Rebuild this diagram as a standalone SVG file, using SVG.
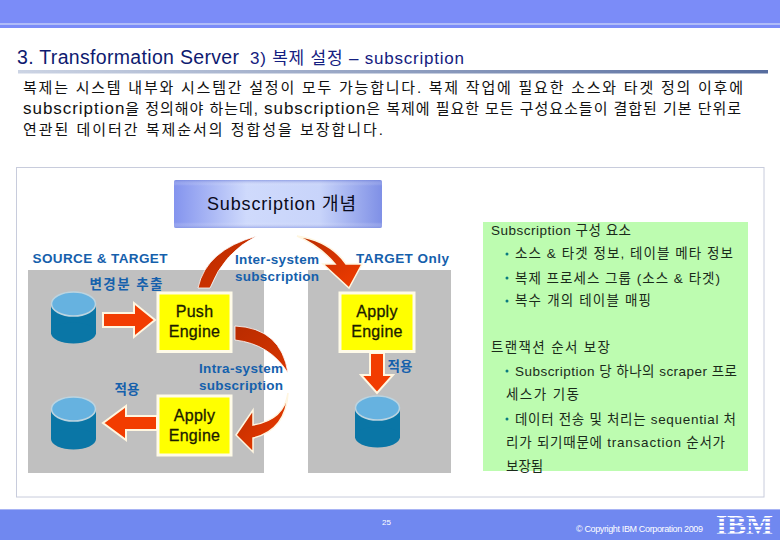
<svg xmlns="http://www.w3.org/2000/svg" width="780" height="540" viewBox="0 0 780 540">
<style>
text{font-family:"Liberation Sans","Noto Sans CJK KR",sans-serif}
.body{font-size:15px;fill:#111}
.body .l{font-size:17px}
.lbl{font-size:13.500px;font-weight:bold;fill:#1560ac;text-anchor:middle}
.eng{font-size:16px;fill:#1c1c00;stroke:#1c1c00;stroke-width:.3;text-anchor:middle;letter-spacing:.3px}
.grn{font-size:13.500px;fill:#1a2a1a}
.dot{fill:#0a7a80}
.gray{fill:#c0c0c0}
.yel{fill:#ffff00;stroke:#fffbe8;stroke-width:3}
.arr{fill:#f23c00;stroke:#fff6e0;stroke-width:2}
.cr{fill:url(#crg);stroke:#fff;stroke-width:.8}
.cyl{fill:#0a76a6}
.cyt{fill:#66b2e0;stroke:#bcd4e0;stroke-width:1.500}
</style>
<defs>
<linearGradient id="rule"><stop offset="0" stop-color="#ccd4e4"/><stop offset="1" stop-color="#566c9e"/></linearGradient>
<linearGradient id="box"><stop offset="0" stop-color="#8494ee"/><stop offset=".35" stop-color="#cfdafc"/><stop offset=".7" stop-color="#c8d4fa"/><stop offset="1" stop-color="#7f90e6"/></linearGradient>
<linearGradient id="boxe" x1="0" y1="0" x2="0" y2="1"><stop offset="0" stop-color="#6f80d8" stop-opacity=".6"/><stop offset=".12" stop-color="#fff" stop-opacity="0"/><stop offset=".88" stop-color="#fff" stop-opacity="0"/><stop offset="1" stop-color="#7f90e0" stop-opacity=".6"/></linearGradient>
<linearGradient id="crg" x1="0" y1="0" x2="1" y2="1"><stop offset="0" stop-color="#b82c00"/><stop offset="1" stop-color="#d83400"/></linearGradient>
<linearGradient id="crt" x1="0" y1="0" x2="1" y2="1"><stop offset="0" stop-color="#b82c00"/><stop offset="1" stop-color="#f23c00"/></linearGradient>
<pattern id="stripes" patternUnits="userSpaceOnUse" x="0" y="515" width="10" height="4"><rect width="10" height="2.600" fill="#fff"/></pattern>
</defs>

<g id="header">
<rect width="780" height="28" fill="#7b8cf8"/>
<rect y="23" width="780" height="2" fill="#b0bcf8"/>
<text x="17" y="64" font-size="19.500" fill="#0e1a70" textLength="222">3. Transformation Server</text>
<text x="250" y="64" font-size="17" fill="#142080" textLength="214">3) 복제 설정 – subscription</text>
<rect x="18" y="70" width="750" height="3.500" fill="url(#rule)"/>
</g>

<g id="intro">
<text class="body" x="23" y="93" textLength="720">복제는 시스템 내부와 시스템간 설정이 모두 가능합니다. 복제 작업에 필요한 소스와 타겟 정의 이후에</text>
<text class="body" x="23" y="114" textLength="718"><tspan class="l">subscription</tspan>을 정의해야 하는데, <tspan class="l">subscription</tspan>은 복제에 필요한 모든 구성요소들이 결합된 기본 단위로</text>
<text class="body" x="23" y="135" textLength="360">연관된 데이터간 복제순서의 정합성을 보장합니다.</text>
</g>

<rect id="frame" x="16.500" y="167.500" width="747.500" height="329.500" fill="#fff" stroke="#c8ccdc"/>
<rect id="zone-source" class="gray" x="28" y="270" width="236" height="203"/>
<rect id="zone-target" class="gray" x="308" y="270" width="143" height="203"/>

<g id="concept">
<rect x="174" y="180" width="208" height="48" rx="2" fill="url(#box)"/>
<rect x="174" y="180" width="208" height="48" rx="2" fill="url(#boxe)"/>
<text x="207" y="210" font-size="18" fill="#0a0a1a" textLength="149">Subscription 개념</text>
</g>

<g id="connectors">
<path class="arr" d="M103,313H134V303L155,320L134,337V327H103Z"/>
<path class="arr" d="M157,416H126V406L103,423L126,440V430H157Z"/>
<path class="arr" d="M370,353H384V375H393L377,393L361,375H370Z"/>
<path class="cr" d="M198,288Q206,250 257,236Q224,252 210,288Z"/>
<path d="M297,236Q330,241 346,264L362,264L349,288L323,264L335,264Q320,246 297,236Z" fill="url(#crt)" stroke="#fff6e0" stroke-width="1.500"/>
<path class="cr" d="M235,326Q281,328 288,373Q270,344 235,340Z"/>
<path d="M288,393Q284,420 253,425V410L236,435L253,452V438Q286,430 288,393Z" fill="url(#crt)" stroke="#fff6e0" stroke-width="1.500"/>
</g>

<g id="db-source"><rect class="cyl" x="51" y="304" width="45" height="30"/><ellipse class="cyl" cx="73.500" cy="333" rx="22.500" ry="10.500"/><ellipse class="cyt" cx="73.500" cy="304" rx="22" ry="12"/></g>
<g id="db-applied"><rect class="cyl" x="51" y="409" width="45" height="30"/><ellipse class="cyl" cx="73.500" cy="439" rx="22.500" ry="10.500"/><ellipse class="cyt" cx="73.500" cy="409" rx="22" ry="12"/></g>
<g id="db-target"><rect class="cyl" x="355" y="408" width="45" height="30"/><ellipse class="cyl" cx="377.500" cy="437" rx="22.500" ry="10.500"/><ellipse class="cyt" cx="377.500" cy="408" rx="22" ry="12"/></g>

<g id="push-engine"><rect class="yel" x="158" y="293" width="73" height="58.500"/><text class="eng" x="194.500" y="317">Push</text><text class="eng" x="194.500" y="337">Engine</text></g>
<g id="apply-engine-left"><rect class="yel" x="158" y="396" width="73" height="59"/><text class="eng" x="194.500" y="421">Apply</text><text class="eng" x="194.500" y="441">Engine</text></g>
<g id="apply-engine-right"><rect class="yel" x="340" y="293" width="74" height="58.500"/><text class="eng" x="377" y="317">Apply</text><text class="eng" x="377" y="337">Engine</text></g>

<g id="labels">
<text class="lbl" x="100" y="263" textLength="135">SOURCE &amp; TARGET</text>
<text class="lbl" x="277" y="264" textLength="84">Inter-system</text>
<text class="lbl" x="277" y="281" textLength="84">subscription</text>
<text class="lbl" x="402.500" y="263" textLength="93">TARGET Only</text>
<text class="lbl" x="126" y="289" textLength="73">변경분 추출</text>
<text class="lbl" x="127" y="394">적용</text>
<text class="lbl" x="241" y="373" textLength="84">Intra-system</text>
<text class="lbl" x="241" y="390" textLength="84">subscription</text>
<text class="lbl" x="400" y="371">적용</text>
</g>

<g id="notes">
<rect x="483" y="222" width="265" height="249" fill="#bdfcb0"/>
<text class="grn" x="491" y="235" textLength="140">Subscription 구성 요소</text>
<circle class="dot" cx="507" cy="254" r="1.500"/><text class="grn" x="515" y="258" textLength="218">소스 &amp; 타겟 정보, 테이블 메타 정보</text>
<circle class="dot" cx="507" cy="278" r="1.500"/><text class="grn" x="515" y="283" textLength="205">복제 프로세스 그룹 (소스 &amp; 타겟)</text>
<circle class="dot" cx="507" cy="301" r="1.500"/><text class="grn" x="515" y="305" textLength="136">복수 개의 테이블 매핑</text>
<text class="grn" x="491" y="352" textLength="119">트랜잭션 순서 보장</text>
<circle class="dot" cx="507" cy="371" r="1.500"/><text class="grn" x="515" y="376" textLength="222">Subscription 당 하나의 scraper 프로</text>
<text class="grn" x="506" y="399" textLength="73">세스가 기동</text>
<circle class="dot" cx="507" cy="419" r="1.500"/><text class="grn" x="515" y="424" textLength="221">데이터 전송 및 처리는 sequential 처</text>
<text class="grn" x="506" y="447" textLength="219">리가 되기때문에 transaction 순서가</text>
<text class="grn" x="506" y="471">보장됨</text>
</g>

<g id="footer">
<rect y="509" width="780" height="31" fill="#7088f0"/>
<rect y="509" width="780" height="1" fill="#a8b4f4"/>
<text x="382" y="525" font-size="8" fill="#fff">25</text>
<text x="576" y="532" font-size="9" fill="#fff" textLength="127">© Copyright IBM Corporation 2009</text>
<text x="716" y="534" font-size="28" font-weight="bold" fill="url(#stripes)" style="font-family:'Liberation Serif',serif" textLength="57" lengthAdjust="spacingAndGlyphs">IBM</text>
</g>
</svg>
